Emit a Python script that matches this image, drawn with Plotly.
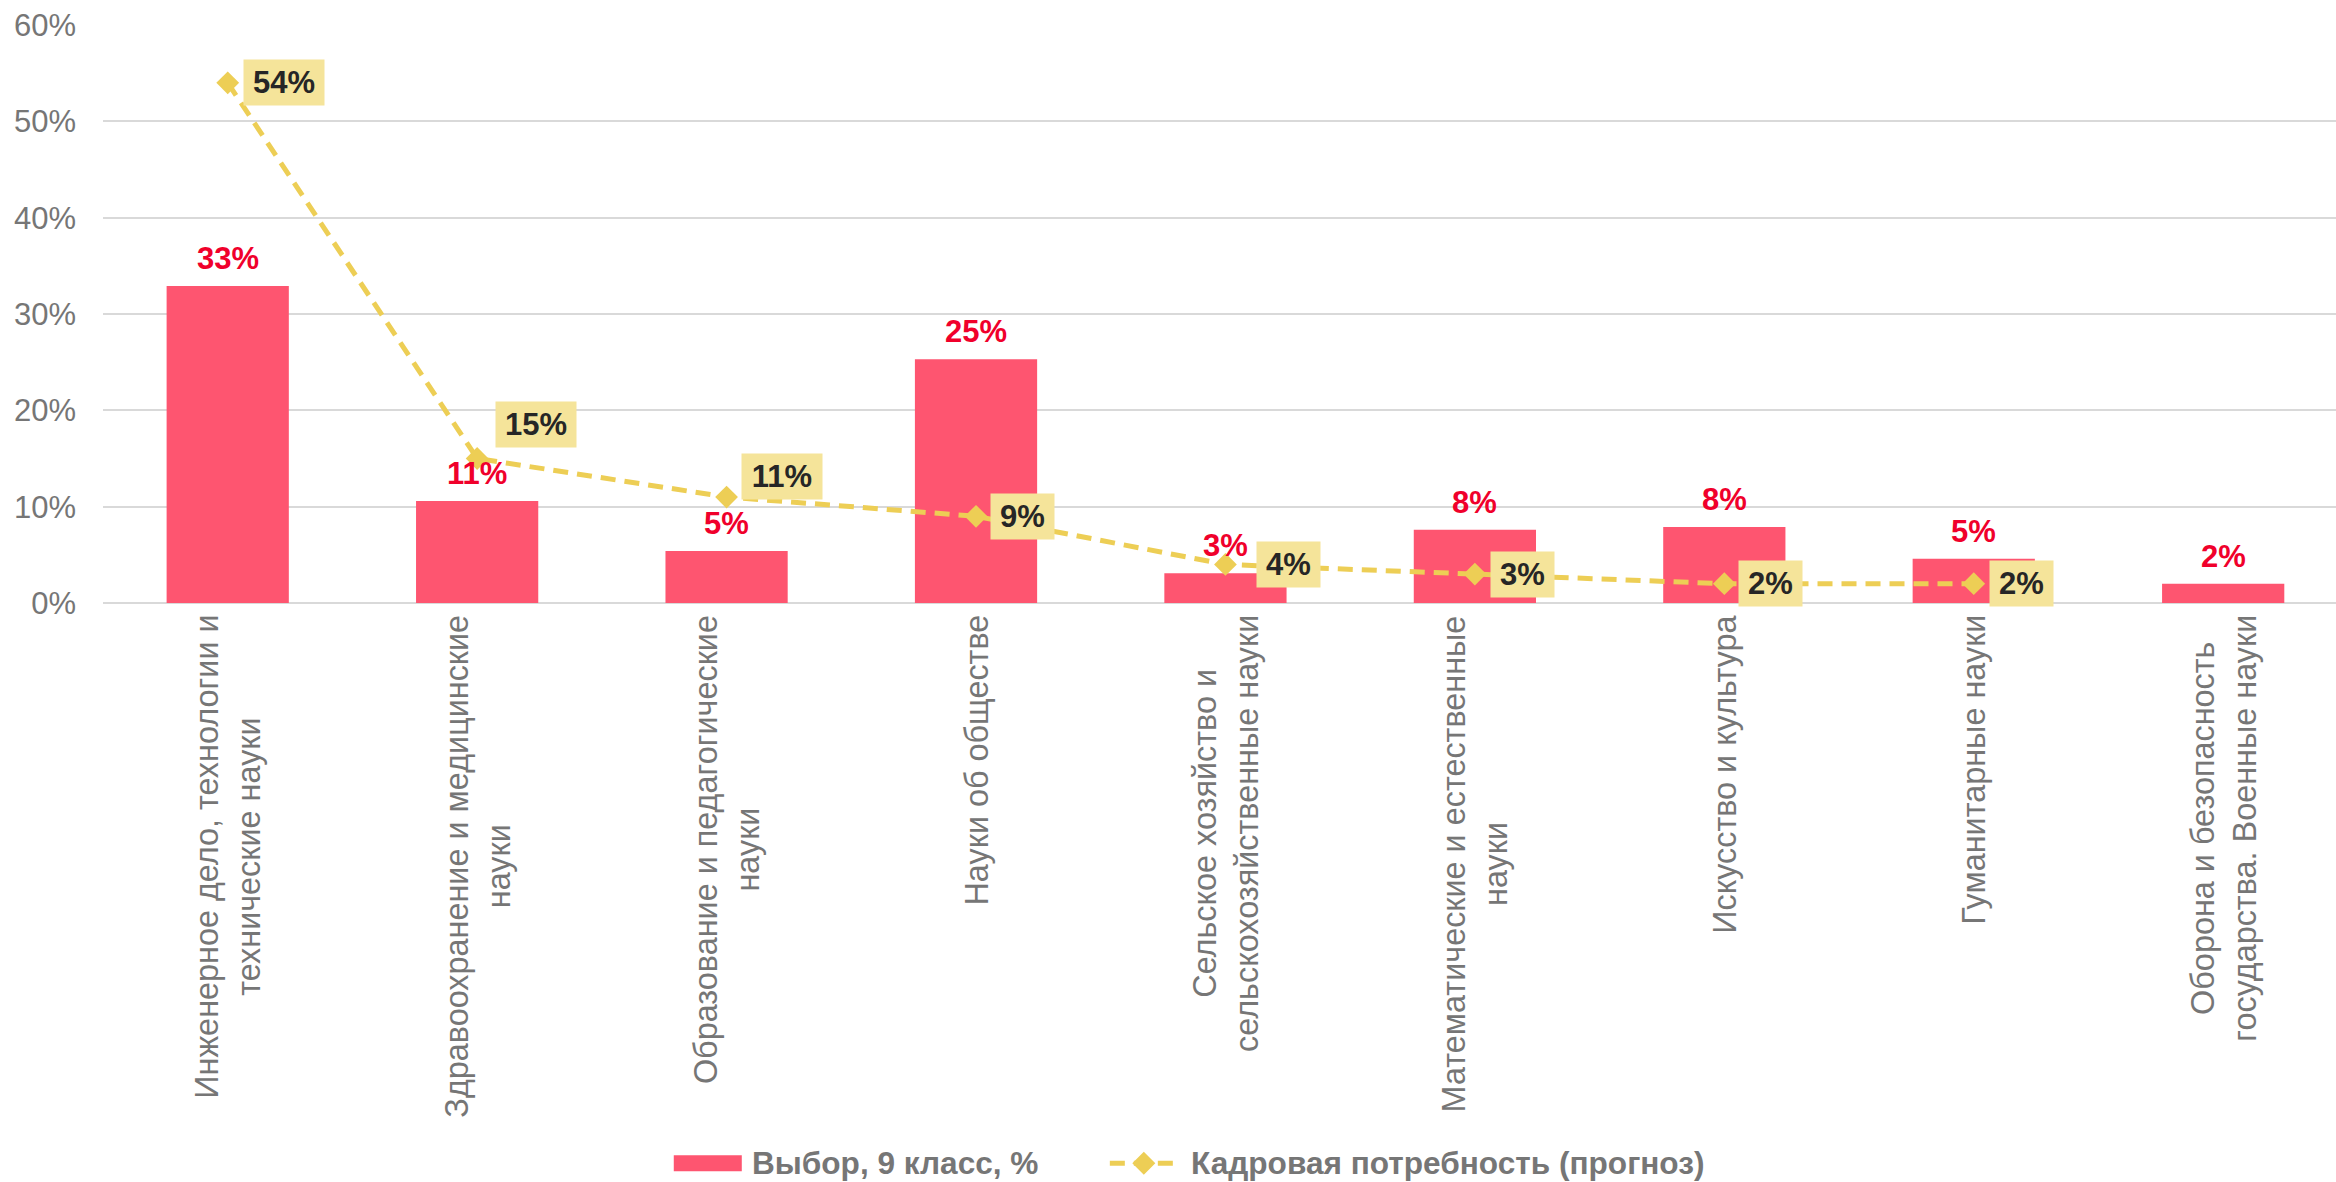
import plotly.graph_objects as go

# ---------------- data ----------------
categories = [
    "Инженерное дело, технологии и<br>технические науки",
    "Здравоохранение и медицинские<br>науки",
    "Образование и педагогические<br>науки",
    "Науки об обществе",
    "Сельское хозяйство и<br>сельскохозяйственные науки",
    "Математические и естественные<br>науки",
    "Искусство и культура",
    "Гуманитарные науки",
    "Оборона и безопасность<br>государства. Военные науки",
]
choice_9 = [0.329, 0.106, 0.054, 0.253, 0.031, 0.076, 0.079, 0.046, 0.020]
choice_labels = ["33%", "11%", "5%", "25%", "3%", "8%", "8%", "5%", "2%"]
demand = [0.54, 0.15, 0.11, 0.09, 0.04, 0.03, 0.02, 0.02, None]
demand_labels = ["54%", "15%", "11%", "9%", "4%", "3%", "2%", "2%"]
ytick_vals = [0, 0.1, 0.2, 0.3, 0.4, 0.5, 0.6]
ytick_text = ["0%", "10%", "20%", "30%", "40%", "50%", "60%"]
series_names = ["Выбор, 9 класс, %", "Кадровая потребность (прогноз)"]

# ---------------- style ----------------
FONT = "Liberation Sans, Arial, sans-serif"
BAR_COLOR = "#FE5570"
BAR_LABEL = "#F0002B"
LINE_COLOR = "#EDCE55"
BOX_COLOR = "#F5E49A"
GRAY = "#767676"
GRID = "#D9D9D9"
FS = 31

W_PX, H_PX = 2336, 1182
L, R, T, B = 103.3, 2336.0, 25.3, 603.0
PW, PH = R - L, B - T


def px(xp):
    return (xp - L) / PW


def py(yp):
    return (B - yp) / PH


def text_w(s):
    w = 0
    for ch in s:
        w += 0.889 if ch == "%" else 0.556
    return w * FS


# label offsets for the forecast labels (px, relative to marker)
lab_dx = [15, 18, 14, 14, 31, 15, 14, 15]
lab_dy = [0, 34, 21, 0, 0, 0, 0, 0]

fig = go.Figure()
fig.add_trace(go.Bar(
    x=list(range(len(categories))), y=choice_9, name=series_names[0],
    marker=dict(color=BAR_COLOR, line=dict(width=0)),
    showlegend=False, hoverinfo="skip",
))
fig.add_trace(go.Scatter(
    x=list(range(len(categories))), y=demand, name=series_names[1],
    mode="lines+markers",
    line=dict(color=LINE_COLOR, width=5, dash="15px,9px"),
    marker=dict(symbol="diamond", size=17.5, color=LINE_COLOR),
    showlegend=False, hoverinfo="skip", connectgaps=False,
))

ann = []
# bar value labels
for i, (v, t) in enumerate(zip(choice_9, choice_labels)):
    ann.append(dict(
        x=i, y=v, xref="x", yref="y", text="<b>%s</b>" % t, showarrow=False,
        xanchor="center", yanchor="bottom", yshift=9,
        font=dict(family=FONT, size=FS, color=BAR_LABEL), borderpad=0,
    ))
# forecast labels
for i, t in enumerate(demand_labels):
    ann.append(dict(
        x=i, y=demand[i], xref="x", yref="y", text="<b>%s</b>" % t,
        showarrow=False, xanchor="left", yanchor="middle",
        xshift=lab_dx[i], yshift=lab_dy[i],
        width=text_w(t) + 18, height=45, borderpad=0, align="center",
        bgcolor=BOX_COLOR, font=dict(family=FONT, size=FS, color="#262626"),
    ))
# category labels
for i, c in enumerate(categories):
    ann.append(dict(
        x=i, y=0, xref="x", yref="y", text=c, showarrow=False,
        textangle=-90, xanchor="center", yanchor="top", yshift=-10,
        align="center", font=dict(family=FONT, size=32.4, color=GRAY),
    ))
# custom legend
ly = 1163
ann.append(dict(x=px(750), y=py(ly), xref="paper", yref="paper",
                text="<b>%s</b>" % series_names[0], showarrow=False,
                xanchor="left", yanchor="middle",
                font=dict(family=FONT, size=31.6, color=GRAY)))
ann.append(dict(x=px(1189), y=py(ly), xref="paper", yref="paper",
                text="<b>%s</b>" % series_names[1], showarrow=False,
                xanchor="left", yanchor="middle",
                font=dict(family=FONT, size=31.6, color=GRAY)))

shapes = [
    dict(type="rect", xref="paper", yref="paper",
         x0=px(674), x1=px(742), y0=py(ly - 8), y1=py(ly + 8),
         fillcolor=BAR_COLOR, line=dict(width=0)),
    dict(type="line", xref="paper", yref="paper",
         x0=px(1110), x1=px(1177), y0=py(ly), y1=py(ly),
         line=dict(color=LINE_COLOR, width=5, dash="15px,9px")),
    dict(type="path", xref="paper", yref="paper",
         path="M %f,%f L %f,%f L %f,%f L %f,%f Z" % (
             px(1144 - 11.5), py(ly), px(1144), py(ly - 11.5),
             px(1144 + 11.5), py(ly), px(1144), py(ly + 11.5)),
         fillcolor=LINE_COLOR, line=dict(width=0)),
]

fig.update_layout(
    width=W_PX, height=H_PX,
    margin=dict(l=L, r=W_PX - R, t=T, b=H_PX - B, pad=0),
    paper_bgcolor="white", plot_bgcolor="white",
    bargap=0.51, showlegend=False,
    annotations=ann, shapes=shapes,
    font=dict(family=FONT, size=FS, color=GRAY),
)
fig.update_xaxes(type="linear", range=[-0.5, (R - L) / 249.4 - 0.5],
                 showticklabels=False, showgrid=False, zeroline=False,
                 showline=False, ticks="")
fig.update_yaxes(range=[0, 0.6], tickvals=ytick_vals, ticktext=ytick_text,
                 showgrid=True, gridcolor=GRID, gridwidth=1.5,
                 zeroline=True, zerolinecolor=GRID, zerolinewidth=1.5,
                 showline=False, ticks="", ticklabelstandoff=26,
                 tickfont=dict(family=FONT, size=FS, color=GRAY))

fig.write_html("out.html", config={"displayModeBar": False},
               post_script="document.body.style.margin='0';")
